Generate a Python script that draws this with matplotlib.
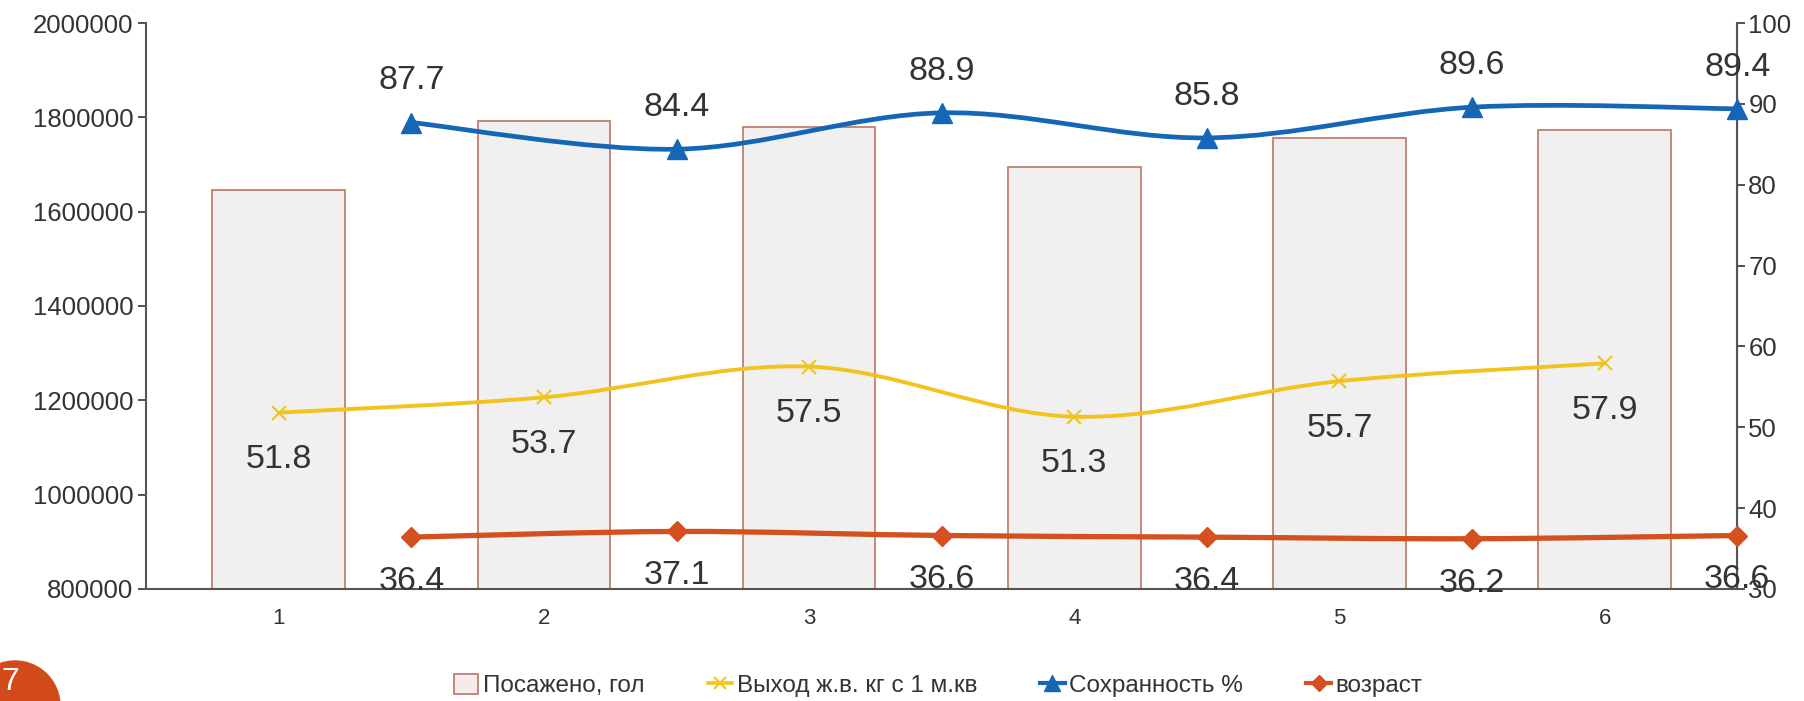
import matplotlib
matplotlib.use("Agg")
import matplotlib.pyplot as plt
import numpy as np
from matplotlib.path import Path
from matplotlib.patches import PathPatch, Circle
from matplotlib.lines import Line2D
from matplotlib.patches import Patch

plt.rcParams['font.family'] = ['Liberation Sans', 'DejaVu Sans']

# ---- data ----
categories = ["1", "2", "3", "4", "5", "6"]
posazheno = [1646000, 1793000, 1780000, 1695000, 1756000, 1773000]
vyhod = [51.8, 53.7, 57.5, 51.3, 55.7, 57.9]
sohrannost = [87.7, 84.4, 88.9, 85.8, 89.6, 89.4]
vozrast = [36.4, 37.1, 36.6, 36.4, 36.2, 36.6]
left_ticks = [800000, 1000000, 1200000, 1400000, 1600000, 1800000, 2000000]
right_ticks = [30, 40, 50, 60, 70, 80, 90, 100]
legend_labels = ["Посажено, гол", "Выход ж.в. кг с 1 м.кв", "Сохранность %", "возраст"]

C_BAR_FILL = "#f0f0f0"
C_BAR_EDGE = "#c08070"
C_YEL = "#f2c31f"
C_BLUE = "#1666b8"
C_RED = "#d4501e"
C_TXT = "#333333"
C_AX = "#555555"


def smooth_path(xs, ys):
    xs = np.asarray(xs, float); ys = np.asarray(ys, float)
    pts = np.column_stack([xs, ys])
    n = len(pts)
    verts = [pts[0]]; codes = [Path.MOVETO]
    for i in range(n - 1):
        p0 = pts[i - 1] if i > 0 else pts[i]
        p1 = pts[i]; p2 = pts[i + 1]
        p3 = pts[i + 2] if i + 2 < n else pts[i + 1]
        c1 = p1 + (p2 - p0) / 6.0
        c2 = p2 - (p3 - p1) / 6.0
        verts += [c1, c2, p2]; codes += [Path.CURVE4] * 3
    return Path(verts, codes)


fig = plt.figure(figsize=(18.04, 7.01), dpi=100)
ax = fig.add_axes([0.081, 0.160, 0.882, 0.807])
ax2 = ax.twinx()

x = np.arange(1, len(categories) + 1)
xs = x + 0.5

ax.bar(x, posazheno, width=0.5, color=C_BAR_FILL, edgecolor=C_BAR_EDGE, linewidth=1.3, zorder=2)
ax.set_xlim(0.5, 6.5)
ax.set_ylim(800000, 2000000)
ax.set_yticks(left_ticks)
ax.set_yticklabels([str(v) for v in left_ticks])
ax.set_xticks(x)
ax.set_xticklabels(categories)
ax.tick_params(axis='y', labelsize=18.5, colors=C_TXT, length=6, width=1.2, pad=3)
ax.tick_params(axis='x', labelsize=16, colors=C_TXT, length=0, pad=14)
for s in ['top']:
    ax.spines[s].set_visible(False)
    ax2.spines[s].set_visible(False)
for s in ['left', 'bottom']:
    ax.spines[s].set_color(C_AX); ax.spines[s].set_linewidth(1.5)
ax2.spines['right'].set_color(C_AX); ax2.spines['right'].set_linewidth(1.5)
ax2.spines['left'].set_visible(False); ax2.spines['bottom'].set_visible(False)

ax2.set_ylim(30, 100)
ax2.set_yticks(right_ticks)
ax2.tick_params(axis='y', labelsize=18.5, colors=C_TXT, length=6, width=1.2, pad=2)

# lines
ax2.add_patch(PathPatch(smooth_path(x, vyhod), fill=False, edgecolor=C_YEL, lw=2.8, zorder=3))
ax2.plot(x, vyhod, ls='none', marker='x', ms=10, mew=1.5, color=C_YEL, zorder=4)
ax2.add_patch(PathPatch(smooth_path(xs, sohrannost), fill=False, edgecolor=C_BLUE, lw=3.4, zorder=3, clip_on=False))
ax2.plot(xs, sohrannost, ls='none', marker='^', ms=15, color=C_BLUE, zorder=4, clip_on=False)
ax2.add_patch(PathPatch(smooth_path(xs, vozrast), fill=False, edgecolor=C_RED, lw=3.8, zorder=3, clip_on=False))
ax2.plot(xs, vozrast, ls='none', marker='D', ms=10, color=C_RED, zorder=4, clip_on=False)

for xi, v in zip(x, vyhod):
    ax2.annotate(f"{v}", (xi, v), xytext=(0, -34), textcoords='offset points',
                 ha='center', va='center', fontsize=24.5, color=C_TXT, zorder=5)
for xi, v in zip(xs, sohrannost):
    ax2.annotate(f"{v}", (xi, v), xytext=(0, 30), textcoords='offset points',
                 ha='center', va='center', fontsize=24.5, color=C_TXT, zorder=5, annotation_clip=False)
for xi, v in zip(xs, vozrast):
    ax2.annotate(f"{v}", (xi, v), xytext=(0, -32), textcoords='offset points',
                 ha='center', va='center', fontsize=24.5, color=C_TXT, zorder=5, annotation_clip=False)

handles = [
    Patch(facecolor="#f3ecea", edgecolor=C_BAR_EDGE, linewidth=1.3),
    Line2D([], [], color=C_YEL, lw=2.6, marker='x', ms=9, mew=1.5),
    Line2D([], [], color=C_BLUE, lw=3.0, marker='^', ms=12),
    Line2D([], [], color=C_RED, lw=3.0, marker='D', ms=8),
]
fig.legend(handles, legend_labels, loc='center', bbox_to_anchor=(0.52, 0.022), ncol=4,
           frameon=False, fontsize=17.5, handlelength=1.0, handletextpad=0.2,
           columnspacing=2.6, handleheight=0.9, labelcolor=C_TXT)

# slide number badge
badge = Circle((0.15, -0.05), 0.45, transform=fig.dpi_scale_trans, color="#d24a1a", zorder=10)
fig.patches.append(badge)
fig.text(0.001, 0.027, "7", color="white", fontsize=23, ha='left', va='center', zorder=11)

fig.savefig("out.png", dpi=100)
